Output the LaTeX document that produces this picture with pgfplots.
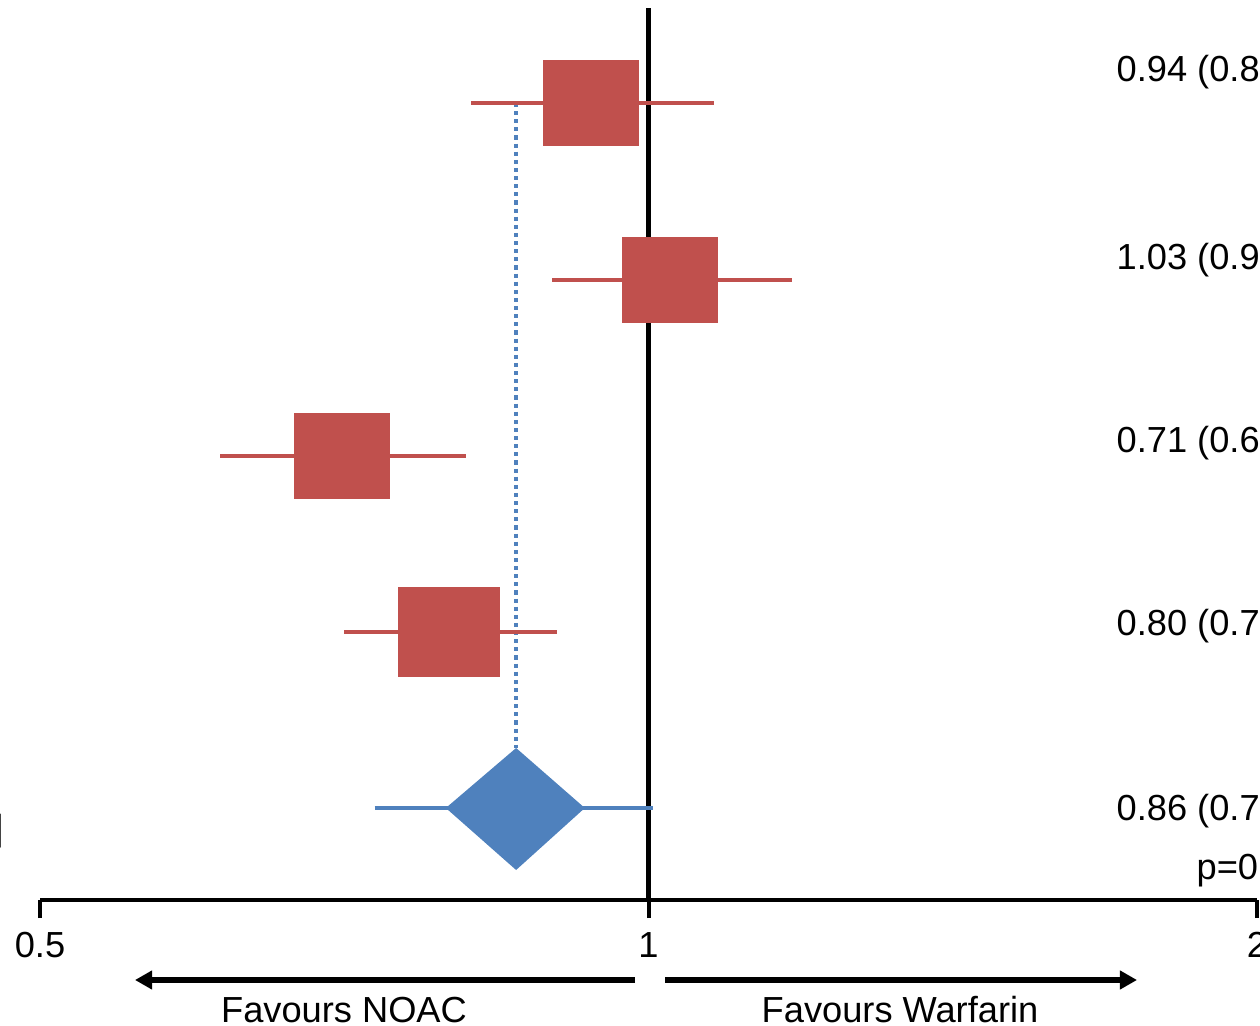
\documentclass[border=0pt]{standalone}
\usepackage{fontspec}
\setmainfont{Liberation Sans}
\usepackage{pgfplots}
\pgfplotsset{compat=1.18}
\usetikzlibrary{arrows.meta}
\definecolor{fred}{HTML}{C0504D}
\definecolor{fblue}{HTML}{4F81BD}
\begin{document}
\begin{tikzpicture}[font=\fontsize{11.6pt}{13pt}\selectfont]
\path[use as bounding box] (-12.8pt,-40.32pt) rectangle (390.4pt,288pt);
\begin{scope}
\clip (-12.8pt,-40.32pt) rectangle (390.4pt,288pt);
\begin{axis}[
  scale only axis, width=389.44pt, height=285.44pt,
  at={(0pt,0pt)}, anchor=south west,
  xmode=log, log basis x=2, xmin=0.5, xmax=2, ymin=0, ymax=892,
  axis x line*=bottom, axis y line=none,
  axis line style={line width=1.3pt},
  xtick={0.5,1,2}, xticklabels={0.5,1,2},
  xtick align=outside, major tick length=5.76pt,
  xtick style={line width=1.3pt, black},
  xticklabel style={font=\fontsize{11.6pt}{13pt}\selectfont, yshift=-1pt},
  ytick=\empty, clip=false,
]
% vertical line of no effect
\addplot[black, line width=1.4pt] coordinates {(1,0) (1,892)};
% pooled estimate reference line
\addplot[fblue, line width=1.3pt, dash pattern=on 1.3pt off 1.3pt] coordinates {(0.86,797) (0.86,152)};
% confidence intervals
\addplot[fred, line width=1.3pt] coordinates {(0.817,797) (1.078,797)};
\addplot[fred, line width=1.3pt] coordinates {(0.896,620) (1.178,620)};
\addplot[fred, line width=1.3pt] coordinates {(0.614,444) (0.812,444)};
\addplot[fred, line width=1.3pt] coordinates {(0.707,268) (0.901,268)};
\addplot[fblue, line width=1.3pt] coordinates {(0.732,92) (1.005,92)};
% study point estimates
\addplot[fred, only marks, mark=square*, mark size=15.2pt, mark options={fill=fred, draw=fred, line width=0pt, yscale=0.895}]
  coordinates {(0.937,797) (1.025,620) (0.705,444)};
\addplot[fred, only marks, mark=square*, mark size=16.16pt, mark options={fill=fred, draw=fred, line width=0pt, yscale=0.881}]
  coordinates {(0.797,268)};
% pooled diamond
\addplot[fill=fblue, draw=none] coordinates {(0.794,92) (0.86,152) (0.93,92) (0.86,30)} -- cycle;
\end{axis}
% estimates text
\node[anchor=base west, inner sep=0pt] at (344.32pt,261.76pt) {0.94 (0.82–1.07)};
\node[anchor=base west, inner sep=0pt] at (344.32pt,201.6pt) {1.03 (0.90–1.18)};
\node[anchor=base west, inner sep=0pt] at (344.32pt,143.04pt) {0.71 (0.61–0.81)};
\node[anchor=base west, inner sep=0pt] at (344.32pt,84.48pt) {0.80 (0.71–0.90)};
\node[anchor=base west, inner sep=0pt] at (344.32pt,25.28pt) {0.86 (0.79–0.93)};
\node[anchor=base west, inner sep=0pt] at (369.92pt,6.4pt) {p=0.001};
\node[anchor=base east, inner sep=0pt] at (-11.52pt,18.88pt) {]};
% favours arrows
\draw[line width=1.8pt, -{Triangle[length=5.5pt,width=5.8pt]}] (190.4pt,-25.6pt) -- (30.4pt,-25.6pt);
\draw[line width=1.8pt, -{Triangle[length=5.5pt,width=5.8pt]}] (200pt,-25.6pt) -- (351.04pt,-25.6pt);
\node[anchor=base, inner sep=0pt] at (97.28pt,-39.04pt) {Favours NOAC};
\node[anchor=base, inner sep=0pt] at (275.2pt,-39.04pt) {Favours Warfarin};
\end{scope}
\end{tikzpicture}
\end{document}
